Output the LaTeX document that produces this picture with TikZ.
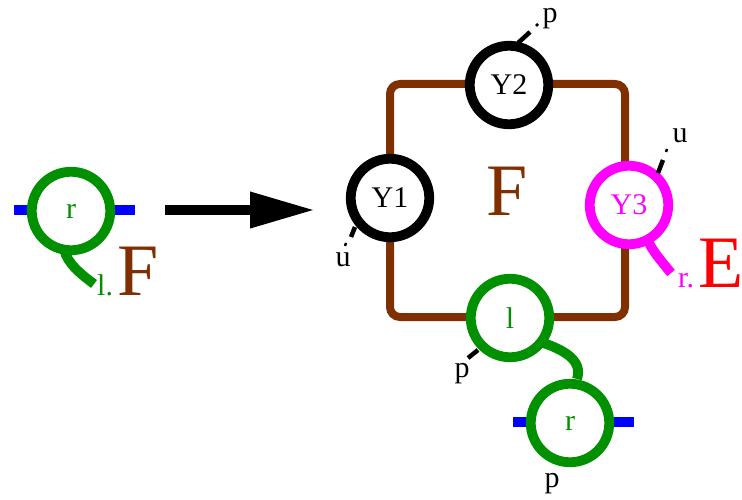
\documentclass[tikz,border=0pt]{standalone}
\usepackage{fontspec}
\setmainfont{Liberation Serif}
\usetikzlibrary{arrows.meta}
\definecolor{fgreen}{RGB}{0,144,0}
\definecolor{fbrown}{RGB}{128,48,0}
\definecolor{fmag}{RGB}{255,0,255}
\definecolor{fblue}{RGB}{0,0,255}
\definecolor{fred}{RGB}{255,0,0}
\tikzset{
  ring/.style={circle, draw, fill=white, line width=9.8pt, minimum size=78.5pt, inner sep=0pt, outer sep=0pt, font=\fontsize{30}{32}\selectfont},
  bar/.style={draw=fblue, line width=9.5pt},
  tailline/.style={line width=9.8pt},
  tick/.style={line width=4.5pt, black},
  dotmark/.style={line width=2.5pt, black},
  small/.style={inner sep=0pt, font=\fontsize{30}{32}\selectfont},
  big/.style={inner sep=0pt, font=\fontsize{74}{76}\selectfont},
  frame/.style={draw=fbrown, line width=8pt, rounded corners=10pt, minimum width=235pt, minimum height=233pt, inner sep=0pt},
}
\begin{document}
\begin{tikzpicture}[x=1pt,y=-1pt]
\useasboundingbox (0,0) rectangle (742,500);
% left piece
\coordinate (lbarA) at (14,210);
\coordinate (lbarB) at (135,210);
\draw[bar] (lbarA) -- (lbarB);
\node[ring, draw=fgreen, text=fgreen] (lr) at (71,211) {r};
\coordinate (lrEnd) at (94,284);
\draw[tailline, fgreen] (lr.260) .. controls +(3,14) and +(-12,-9) .. (lrEnd);
\node[small, text=fgreen, anchor=base west] (ltxt) at (97,295) {l.};
\node[big, text=fbrown, anchor=base west] (lF) at (117,295) {F};
% arrow
\coordinate (arrS) at (165,210);
\coordinate (arrE) at (315,210);
\draw[line width=10pt, -{Triangle[length=65pt, width=34pt]}] (arrS) -- (arrE);
% frame
\node[frame] (sq) at (507.5,200.5) {};
\node[big, text=fbrown] (cF) at (507.5,191.5) {F};
% bottom bar
\coordinate (bbarA) at (513,422);
\coordinate (bbarB) at (634,422);
\draw[bar] (bbarA) -- (bbarB);
% rings
\node[ring, draw=black] (y1) at (390,198) {Y1};
\node[ring, draw=black] (y2) at (509,85) {Y2};
\node[ring, draw=fmag, text=fmag] (y3) at (629,205) {Y3};
\node[ring, draw=fgreen, text=fgreen] (ll) at (510,318) {l};
\node[ring, draw=fgreen, text=fgreen] (rr) at (570,423) {r};
% tails
\coordinate (y3End) at (671,273);
\draw[tailline, fmag] (y3.-62) .. controls +(4,10) and +(-9,-11) .. (y3End);
\coordinate (llEnd) at (577,379);
\draw[tailline, fgreen] (ll.-38) .. controls (565,350) and (583,361) .. (llEnd);
% ticks
\coordinate (t2a) at (518,43); \coordinate (t2b) at (530,32);
\draw[tick] (t2a) -- (t2b);
\coordinate (d2a) at (536,26); \coordinate (d2b) at (538,24);
\draw[dotmark] (d2a) -- (d2b);
\node[small] (p2) at (550,19) {p};
\coordinate (t1a) at (355,227); \coordinate (t1b) at (351,237);
\draw[tick] (t1a) -- (t1b);
\coordinate (d1a) at (346,243); \coordinate (d1b) at (345,246);
\draw[dotmark] (d1a) -- (d1b);
\node[small] (u1) at (343,260) {u};
\coordinate (t3a) at (658,173); \coordinate (t3b) at (663,160);
\draw[tick] (t3a) -- (t3b);
\coordinate (d3a) at (666,152); \coordinate (d3b) at (667,149);
\draw[dotmark] (d3a) -- (d3b);
\node[small] (u3) at (680,136) {u};
\coordinate (tla) at (478,350); \coordinate (tlb) at (468,358);
\draw[tick] (tla) -- (tlb);
\node[small] (pl) at (462,374) {p};
\node[small] (pr) at (552,484) {p};
% right labels
\node[small, text=fmag, anchor=base west] (rtxt) at (678,287) {r.};
\node[big, text=fred, anchor=base west] (E) at (698,287) {E};
\end{tikzpicture}
\end{document}
